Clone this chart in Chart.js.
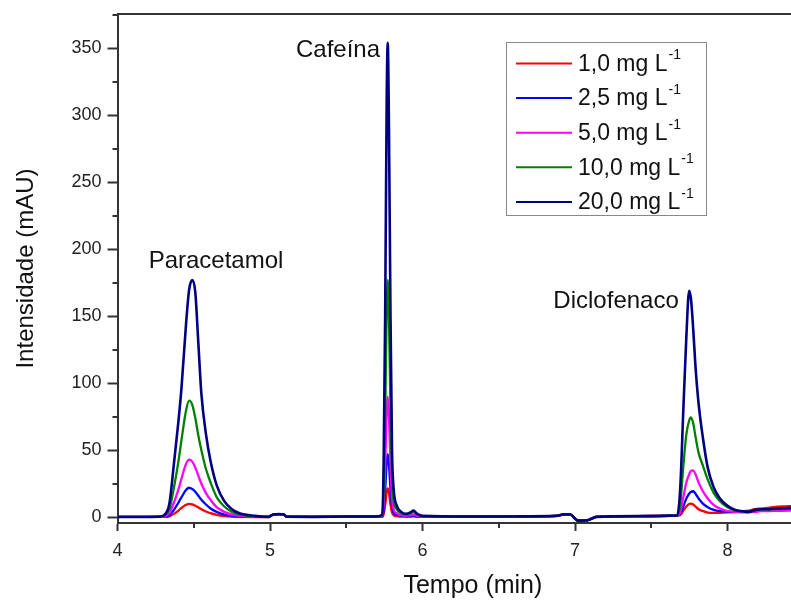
<!DOCTYPE html>
<html>
<head>
<meta charset="utf-8">
<script src="https://cdn.jsdelivr.net/npm/chart.js"></script>
<style>
  body { margin: 0; background: #fff; }
  canvas { display: block; }
</style>
</head>
<body>
<canvas id="chart" width="791" height="601"></canvas>
<script>
// retention time (min), shared by every trace
const tempo = [
  4.00, 4.20, 4.28, 4.31, 4.34, 4.37, 4.40, 4.42, 4.45, 4.47,
  4.49, 4.51, 4.53, 4.55, 4.58, 4.61, 4.65, 4.70, 4.75, 4.80,
  4.90, 4.99, 5.02, 5.06, 5.09, 5.11, 5.30, 5.50, 5.70, 5.735,
  5.745, 5.755, 5.765, 5.772, 5.78, 5.79, 5.80, 5.81, 5.83, 5.86,
  5.89, 5.92, 5.94, 5.965, 6.00, 6.30, 6.60, 6.88, 6.93, 6.97,
  7.00, 7.02, 7.05, 7.08, 7.11, 7.14, 7.40, 7.67, 7.69, 7.71,
  7.73, 7.748, 7.76, 7.775, 7.79, 7.81, 7.84, 7.87, 7.91, 7.95,
  8.00, 8.05, 8.10, 8.14, 8.18, 8.22, 8.26, 8.30, 8.36, 8.42
];

// intensity (mAU) for each standard concentration
const int1 = [
  0.2, 0.2, 0.2, 0.2, 0.7, 2.5, 5, 7, 9.3, 10,
  9.6, 8.6, 7.3, 6, 4.3, 3, 1.8, 0.9, 0.4, 0.2,
  0.1, 0.1, 2, 2.3, 2, 0.4, 0.3, 0.5, 0.6, 0.2,
  2.3, 9, 19, 21.5, 18, 9.5, 3.5, 1.6, 0.8, 0.5,
  0.4, 0.5, 0.6, 0.3, 0.2, 0.5, 0.6, 1, 2.2, 2,
  -1, -2.5, -2.5, -2.3, -1, 0.3, 0.8, 1.3, 1.5, 5,
  8, 9.8, 10.2, 9.5, 8, 6, 4.5, 3.5, 3.2, 3.3,
  3.6, 4, 4.5, 5, 6, 6.5, 7, 7.5, 8, 8.3
];
const int2 = [
  0.2, 0.2, 0.2, 0.4, 1.5, 5.5, 11, 15, 20.5, 22,
  21, 19, 16, 13, 9.5, 6.5, 4, 2, 1, 0.5,
  0.2, 0.2, 2, 2.3, 2, 0.4, 0.3, 0.5, 0.6, 0.3,
  5, 20, 41, 47, 39, 21, 8, 3.5, 1.8, 1,
  0.7, 0.9, 1.2, 0.6, 0.3, 0.5, 0.6, 1, 2.2, 2,
  -1, -2.5, -2.5, -2.3, -1, 0.3, 0.8, 1.3, 2.5, 8,
  14, 17.5, 19, 19.4, 17.5, 14, 10, 7.5, 5.5, 4.5,
  4, 3.8, 3.8, 4, 5, 5.5, 5.7, 6, 6.3, 6.5
];
const int5 = [
  0.2, 0.2, 0.2, 0.8, 3, 11, 21, 29, 40, 43,
  41.5, 37, 31, 25, 18, 13, 7.5, 4, 2, 1,
  0.4, 0.2, 2, 2.3, 2, 0.4, 0.3, 0.5, 0.6, 0.5,
  10, 38, 79, 90, 75, 40, 15, 6, 3, 1.5,
  1, 1.5, 2, 1, 0.5, 0.5, 0.6, 1, 2.2, 2,
  -1, -2.5, -2.5, -2.3, -1, 0.3, 0.8, 1.3, 4, 15,
  26, 32, 34.5, 35, 32, 26, 19, 14, 9, 6.5,
  4.5, 4, 3.8, 3.7, 4, 4.5, 4.5, 4.7, 4.8, 5
];
const int10 = [
  0.2, 0.2, 0.3, 1.5, 6, 22, 42, 58, 80, 87,
  84, 74, 61, 50, 36, 26, 15, 8, 4, 2,
  0.7, 0.2, 2, 2.3, 2, 0.4, 0.3, 0.5, 0.6, 1,
  20, 75, 155, 177, 148, 80, 30, 13, 6, 3,
  2, 2.8, 3.8, 2, 0.8, 0.5, 0.6, 1, 2.2, 2,
  -1, -2.5, -2.5, -2.3, -1, 0.3, 0.8, 1.3, 10, 38,
  62, 72, 74.5, 70, 60, 48, 38, 28, 18, 12,
  7.5, 5, 4.3, 4, 5, 5.8, 5.8, 6, 6.3, 6.5
];
const int20 = [
  0.2, 0.2, 0.5, 2, 10, 40, 72, 97, 145, 170,
  177, 168, 130, 92, 62, 42, 24, 12, 6, 3,
  1, 0.3, 2, 2.3, 2, 0.4, 0.3, 0.5, 0.6, 2,
  40, 150, 310, 354, 290, 150, 50, 22, 9, 4,
  2.5, 3.5, 5, 2.5, 1, 0.5, 0.6, 1, 2.2, 2,
  -1, -2.5, -2.5, -2.3, -1, 0.3, 0.8, 1.3, 22, 80,
  135, 169, 163, 140, 112, 85, 58, 37, 22, 14,
  8.5, 5.5, 4.5, 4, 5.5, 6, 6, 6.3, 6.7, 7
];

const concentracoes = ['1,0', '2,5', '5,0', '10,0', '20,0'];
const cores = ['#ff0000', '#0000ff', '#ff00ff', '#008000', '#000080'];
const series = [int1, int2, int5, int10, int20];

// peak names and where they sit (time, intensity)
const picos = ['Paracetamol', 'Cafeína', 'Diclofenaco'];
const picosPos = [[4.646, 191], [5.446, 348.5], [7.269, 160.7]];

const FONT = "'Liberation Sans', Arial, sans-serif";

function toPoints(values) {
  return tempo.map((t, i) => ({ x: t, y: values[i] }));
}

// top frame line, minor ticks, x title, peak names and the boxed legend
const extras = {
  id: 'extras',
  afterDraw(chart) {
    const ctx = chart.ctx;
    const area = chart.chartArea;
    const xs = chart.scales.x;
    const ys = chart.scales.y;
    ctx.save();
    ctx.strokeStyle = '#333';
    ctx.lineWidth = 2;
    ctx.beginPath();
    ctx.moveTo(area.left, area.top);
    ctx.lineTo(area.right, area.top);
    ctx.stroke();

    // minor ticks
    for (let v = 25; v <= 375; v += 50) {
      const y = Math.round(ys.getPixelForValue(v));
      ctx.beginPath();
      ctx.moveTo(area.left - 5, y);
      ctx.lineTo(area.left, y);
      ctx.stroke();
    }
    for (let v = 4.5; v < xs.max; v += 1) {
      const x = Math.round(xs.getPixelForValue(v));
      ctx.beginPath();
      ctx.moveTo(x, area.bottom);
      ctx.lineTo(x, area.bottom + 5);
      ctx.stroke();
    }

    // x axis title, centred on the full time window of the run
    ctx.fillStyle = '#111';
    ctx.textAlign = 'center';
    ctx.textBaseline = 'middle';
    ctx.font = '25px ' + FONT;
    ctx.fillText('Tempo (min)', xs.getPixelForValue(6.33), 586);

    // peak labels
    ctx.font = '24px ' + FONT;
    picos.forEach((nome, i) => {
      ctx.fillText(nome, xs.getPixelForValue(picosPos[i][0]), ys.getPixelForValue(picosPos[i][1]));
    });

    // legend
    const bx = 506, by = 42, bw = 200, bh = 173;
    ctx.strokeStyle = '#888';
    ctx.lineWidth = 1;
    ctx.strokeRect(bx + 0.5, by + 0.5, bw, bh);
    concentracoes.forEach((c, i) => {
      const y = 63.5 + i * 34.6;
      ctx.strokeStyle = cores[i];
      ctx.lineWidth = 2;
      ctx.beginPath();
      ctx.moveTo(516, y);
      ctx.lineTo(572, y);
      ctx.stroke();
      ctx.fillStyle = '#111';
      ctx.textAlign = 'left';
      ctx.font = '23px ' + FONT;
      const txt = c + ' mg L';
      ctx.fillText(txt, 578, y + 1);
      const w = ctx.measureText(txt).width;
      ctx.font = '14px ' + FONT;
      ctx.fillText('-1', 578 + w + 1, y - 8);
    });
    ctx.restore();
  }
};

const datasets = series.map((vals, i) => ({
  label: concentracoes[i] + ' mg L-1',
  data: toPoints(vals),
  borderColor: cores[i],
  borderWidth: i === 4 ? 2.6 : 2.3,
  order: 4 - i
}));

const ctx = document.getElementById('chart').getContext('2d');
const chart = new Chart(ctx, {
  type: 'line',
  data: { datasets: datasets },
  options: {
    responsive: false,
    animation: false,
    devicePixelRatio: 1,
    layout: { padding: { top: 14, right: 0, bottom: 0, left: 0 } },
    plugins: { legend: { display: false }, tooltip: { enabled: false } },
    elements: {
      point: { radius: 0 },
      line: { cubicInterpolationMode: 'monotone', fill: false }
    },
    scales: {
      x: {
        type: 'linear',
        min: 4,
        max: 8.416,
        afterFit: (s) => { s.height = 78; s.paddingLeft = 0; s.paddingRight = 0; },
        ticks: { stepSize: 1, includeBounds: false, padding: 9, color: '#222', font: { family: FONT, size: 18 } },
        grid: { display: true, drawOnChartArea: false, drawTicks: true, tickLength: 8, tickWidth: 2, tickColor: '#333' },
        border: { display: true, color: '#333', width: 2 }
      },
      y: {
        min: -4.3,
        max: 375.4,
        afterFit: (s) => { s.width = 117.5; s.paddingTop = 0; s.paddingBottom = 0; },
        ticks: { stepSize: 50, includeBounds: false, padding: 6, color: '#222', font: { family: FONT, size: 18 } },
        grid: { display: true, drawOnChartArea: false, drawTicks: true, tickLength: 10, tickWidth: 2, tickColor: '#333' },
        border: { display: true, color: '#333', width: 2 },
        title: { display: true, text: 'Intensidade (mAU)', color: '#111', font: { family: FONT, size: 24 }, padding: { top: 12 } }
      }
    }
  },
  plugins: [extras]
});
</script>
</body>
</html>
